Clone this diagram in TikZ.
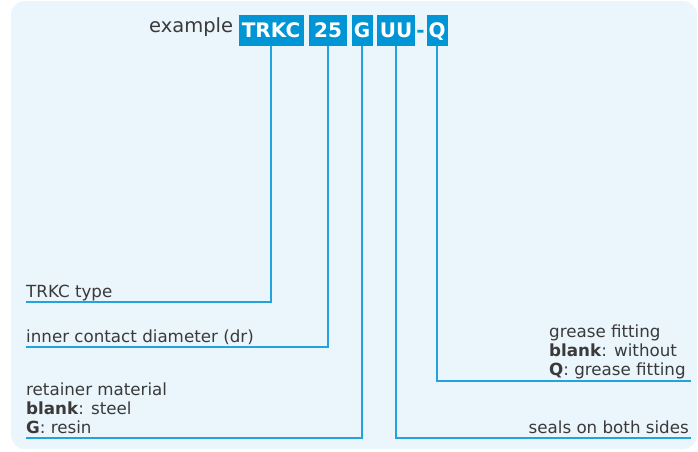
\documentclass[tikz,border=0pt]{standalone}
\usepackage{fontspec}
\setmainfont{DejaVu Sans}
\definecolor{bgblue}{HTML}{EAF5FC}
\definecolor{boxblue}{HTML}{0096D6}
\definecolor{lineblue}{HTML}{23A3DD}
\definecolor{txtgray}{HTML}{3A3A3A}
\tikzset{
  codebox/.style={fill=boxblue, text=white, inner sep=0pt, minimum height=31pt,
    text height=15pt, text depth=0pt, font=\fontsize{20}{20}\selectfont\bfseries, anchor=center},
  codedash/.style={text=boxblue, inner sep=0pt, text height=15pt, text depth=0pt,
    font=\fontsize{20}{20}\selectfont\bfseries, anchor=center},
  lbl/.style={text=txtgray, inner sep=0pt, font=\fontsize{16.7}{18.8}\selectfont},
  conn/.style={draw=lineblue, line width=2pt},
}
\begin{document}
\begin{tikzpicture}[x=1pt,y=-1pt]
\useasboundingbox (0,0) rectangle (698,451);
\fill[bgblue, rounded corners=14pt] (11,1) rectangle (697,449);
% header
\node[text=txtgray, inner sep=0pt, anchor=base west, font=\fontsize{19.5}{20}\selectfont] (ex) at (149,32) {example};
\node[codebox, minimum width=65pt] (trkc) at (271,30) {TRKC};
\node[codebox, minimum width=38pt] (n25) at (328,30) {25};
\node[codebox, minimum width=21pt] (g) at (362,30) {G};
\node[codebox, minimum width=38pt] (uu) at (396,30) {UU};
\node[codedash] (dash) at (420.5,30) {-};
\node[codebox, minimum width=21pt] (q) at (437,30) {Q};
% labels
\node[lbl, anchor=base west] (l1) at (26,297) {TRKC type};
\node[lbl, anchor=base west] (l2) at (26,342) {inner contact diameter (dr)};
\node[lbl, anchor=base west, align=left] (l3) at (26,433) {retainer material\\\textbf{blank}: steel\\\textbf{G}: resin};
\node[lbl, anchor=base west, align=left] (l5) at (549,375) {grease fitting\\\textbf{blank}: without\\\textbf{Q}: grease fitting};
\node[lbl, anchor=base east] (l4) at (689,433) {seals on both sides};
% line ends
\coordinate (e1) at (26,302);
\coordinate (e2) at (26,347);
\coordinate (e3) at (26,438);
\coordinate (e4) at (691,438);
\coordinate (e5) at (691,381);
% connectors
\draw[conn] (trkc.south) |- (e1);
\draw[conn] (n25.south) |- (e2);
\draw[conn] (g.south) |- (e3);
\draw[conn] (uu.south) |- (e4);
\draw[conn] (q.south) |- (e5);
\end{tikzpicture}
\end{document}
